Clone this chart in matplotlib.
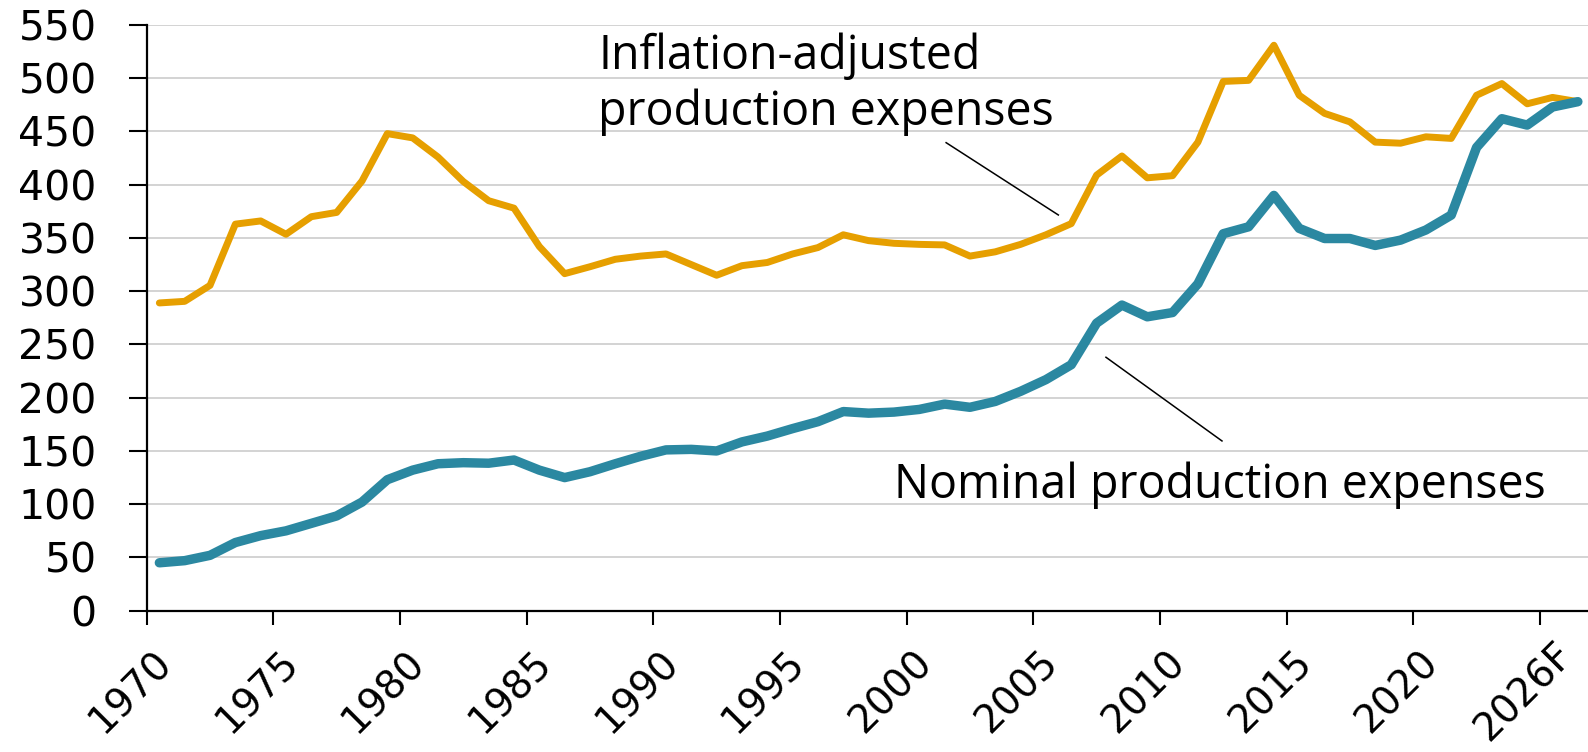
import matplotlib
matplotlib.use("Agg")
import matplotlib.pyplot as plt
from matplotlib.transforms import ScaledTranslation

# ---- data ----
years = list(range(1970, 2027))
inflation_adjusted = [289, 290.5, 305.5, 363, 366, 353.5, 370, 374, 403.5, 448,
                      444, 426, 403, 385, 378, 342, 316.5, 323, 330, 333,
                      335, 325, 315, 324, 327, 335, 341, 353, 347.5, 345,
                      344, 343.5, 333, 337, 344, 353, 363.5, 409, 427, 406.5,
                      408.5, 440, 497, 498, 531, 484, 467, 459, 440, 439,
                      445, 443.5, 484, 495, 476, 482, 478]
nominal = [45, 47, 52, 64, 70.5, 75, 82, 89, 102, 123,
           132, 138, 139, 138.5, 141.5, 132, 125, 130.5, 138, 145,
           151, 151.5, 150, 158.5, 164, 171, 177.5, 187, 185.5, 186.5,
           189, 194, 191, 196.5, 206, 217, 231, 270, 287, 276,
           280, 307, 354, 360.5, 390, 359, 349.5, 349.5, 343, 348,
           357.5, 371.5, 435, 462, 456, 473, 478]
tick_years = [1970, 1975, 1980, 1985, 1990, 1995, 2000, 2005, 2010, 2015, 2020, 2025]
tick_labels = ["1970", "1975", "1980", "1985", "1990", "1995", "2000", "2005",
               "2010", "2015", "2020", "2026F"]
y_ticks = list(range(0, 551, 50))

ORANGE = "#E69F00"
BLUE = "#2B88A1"

fig = plt.figure(figsize=(15.88, 7.52), dpi=100)
ax = fig.add_axes([0.09238, 0.18790, 0.90762, 0.77886])

x = [yr + 0.5 for yr in years]
ax.plot(x, inflation_adjusted, color=ORANGE, lw=5.0, solid_capstyle="round", zorder=3)
ax.plot(x, nominal, color=BLUE, lw=6.8, solid_capstyle="round", zorder=4)

ax.set_xlim(1970, 2026.9)
ax.set_ylim(0, 550)
ax.set_yticks(y_ticks)
ax.set_xticks(tick_years)

ax.grid(axis="y", color="#d0d0d0", lw=1.3, zorder=0)
ax.set_axisbelow(True)
for s in ("top", "right"):
    ax.spines[s].set_visible(False)
for s in ("left", "bottom"):
    ax.spines[s].set_color("black")
    ax.spines[s].set_linewidth(1.6)

ax.tick_params(axis="y", length=13, width=1.5, pad=23, labelsize=29.5, direction="out")
ax.tick_params(axis="x", length=10, width=1.5, pad=48.5, labelsize=28, direction="out")
ax.set_xticklabels(tick_labels, rotation=45, ha="center", va="center",
                   rotation_mode="anchor")
shift = ScaledTranslation(-16 / 100, 0, fig.dpi_scale_trans)
for lab in ax.get_xticklabels():
    lab.set_transform(lab.get_transform() + shift)

# annotations
afont = dict(family="Open Sans", fontsize=33.5, color="black")
ax.text(1987.82, 508.7, "Inflation-adjusted", ha="left", va="baseline", **afont)
ax.text(1987.82, 456.1, "production expenses", ha="left", va="baseline", **afont)
ax.text(1999.5, 105.5, "Nominal production expenses", ha="left", va="baseline", **afont)
ax.plot([2001.56, 2005.99], [439.5, 371.6], color="black", lw=1.1, zorder=5)
ax.plot([2007.87, 2012.45], [238.0, 159.4], color="black", lw=1.1, zorder=5)

fig.savefig("out.png", dpi=100)
